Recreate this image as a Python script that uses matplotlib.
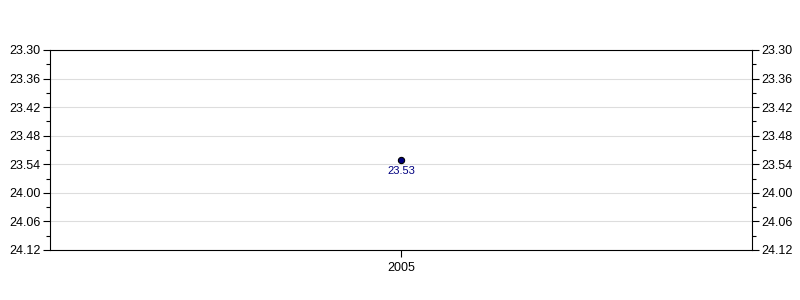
import matplotlib
matplotlib.use("Agg")
import matplotlib.pyplot as plt
import matplotlib.ticker as ticker

# ── data ──────────────────────────────
years = [2005]
times = ["23.53"]          # minutes.seconds
y_min, y_max = "23.30", "24.12"
# ──────────────────────────────────────

NAVY = "#000080"


def to_sec(s):
    m, sec = s.split(".")
    return int(m) * 60 + int(sec)


def fmt_ms(v, _pos=None):
    v = int(round(v))
    return f"{v // 60}.{v % 60:02d}"


plt.rcParams["font.family"] = ["Liberation Sans", "DejaVu Sans"]

fig = plt.figure(figsize=(8, 3), dpi=100, facecolor="white")
ax = fig.add_axes([50 / 800, 50 / 300, 702 / 800, 200 / 300])

secs = [to_sec(t) for t in times]
ax.plot(years, secs, "o", color=NAVY, markeredgecolor="black",
        markersize=4.5, markeredgewidth=0.8, zorder=3)
for x, y, lbl in zip(years, secs, times):
    ax.annotate(lbl, (x, y), xytext=(0, -4.5), textcoords="offset points",
                ha="center", va="top", color=NAVY, fontsize=8)

ax.set_xlim(years[0] - 0.5, years[-1] + 0.5)
ax.set_xticks(years)
ax.set_xticklabels([str(y) for y in years])

ax.set_ylim(to_sec(y_max), to_sec(y_min))
ax.yaxis.set_major_locator(ticker.MultipleLocator(6))
ax.yaxis.set_minor_locator(ticker.MultipleLocator(3))
ax.yaxis.set_major_formatter(ticker.FuncFormatter(fmt_ms))
ax.grid(True, axis="y", color="#dddddd", linewidth=0.8)
ax.set_axisbelow(True)

ax.tick_params(axis="both", which="major", length=5, width=0.8,
               labelsize=9, colors="black")
ax.tick_params(axis="y", which="major", pad=2)
ax.tick_params(axis="y", which="minor", length=3, width=0.8)
ax.tick_params(axis="y", which="both", left=True, right=True,
               labelleft=True, labelright=True)

for sp in ax.spines.values():
    sp.set_linewidth(0.8)

fig.savefig("out.png", dpi=100, facecolor="white")
